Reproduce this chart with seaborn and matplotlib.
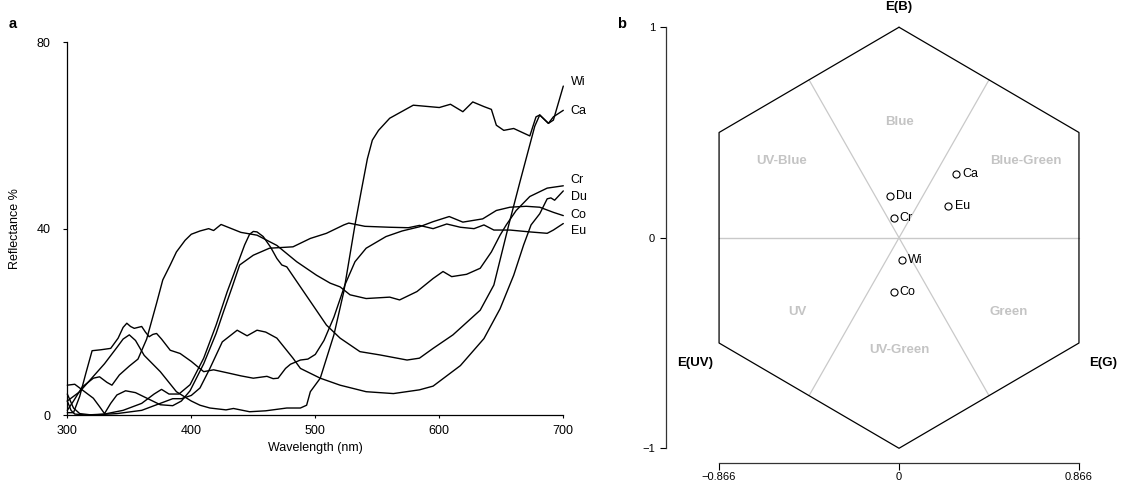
import numpy as np
import pandas as pd
import matplotlib
matplotlib.use("Agg")
import matplotlib.pyplot as plt
import seaborn as sns

# ---------------- data: panel a (reflectance spectra) ----------------
wi_wl = [300, 303, 306, 315, 330, 345, 360, 370, 376, 382, 390, 399, 410, 420, 429, 437, 443, 447, 450, 453,
         458, 464, 469, 473, 477, 488, 498, 509, 520, 536, 552, 574, 584, 595, 611, 633, 644, 652, 656,
         665, 677, 681, 688, 692, 700]
wi_r = [3.0, 1.0, 0.2, 0.0, 0.2, 1.0, 2.5, 4.5, 5.5, 4.5, 4.5, 6.5, 12.2, 19.3, 26.5, 32.2, 36.5, 38.8, 39.4, 39.3,
        38.3, 36.0, 33.6, 32.2, 31.8, 27.5, 23.6, 19.3, 16.5, 13.6, 12.9, 11.8, 12.2, 14.3, 17.2, 22.5, 27.9, 36.5, 40.8,
        50.0, 62.0, 64.4, 62.6, 63.3, 70.6]

ca_wl = [300, 310, 320, 330, 340, 345, 350, 355, 362, 375, 388, 400, 407, 415, 428, 434, 447, 460, 477, 488,
         493, 496, 504, 515, 523, 532, 537, 542, 546, 551, 560, 579, 600, 609, 619, 627, 636, 642,
         646, 652, 660, 673, 678, 681, 688, 692, 700]
ca_r = [3.0, 5.0, 8.0, 11.0, 14.5, 16.3, 17.2, 16.0, 12.8, 9.3, 5.0, 3.0, 2.1, 1.5, 1.1, 1.4, 0.7, 0.9, 1.5, 1.5,
        2.1, 5.0, 7.9, 17.2, 26.5, 40.8, 48.0, 55.0, 59.0, 61.1, 63.7, 66.5, 66.0, 66.7, 65.1, 67.2, 66.2, 65.6,
        62.2, 61.1, 61.5, 59.9, 64.0, 64.4, 62.6, 64.0, 65.4]

cr_wl = [300, 305, 312, 321, 326, 332, 336, 342, 350, 357, 364, 372, 377, 383, 388, 395, 400, 407,
         414, 418, 424, 440, 453, 461, 469, 485, 501, 512, 520, 528, 541, 560, 568, 582, 595, 603,
         610, 622, 633, 642, 649, 654, 662, 673, 687, 700]
cr_r = [1.0, 3.0, 6.0, 7.9, 8.2, 7.0, 6.4, 8.6, 10.5, 12.0, 16.3, 24.0, 29.0, 32.2, 35.0, 37.5, 38.8, 39.5,
        40.0, 39.6, 40.9, 39.2, 38.6, 37.5, 36.4, 32.9, 30.0, 28.3, 27.5, 25.8, 25.0, 25.3, 24.7, 26.5, 29.3, 30.8,
        29.7, 30.2, 31.5, 35.0, 38.6, 40.8, 43.9, 46.9, 48.7, 49.2]

du_wl = [300, 305, 310, 320, 340, 360, 375, 385, 392, 400, 407, 415, 425, 437, 445, 453, 460, 469,
         482, 488, 504, 520, 541, 563, 584, 595, 617, 636, 649, 660, 668, 674, 681, 687, 690, 693, 700]
du_r = [4.5, 1.5, 0.3, 0.0, 0.3, 1.0, 2.5, 3.5, 3.5, 4.2, 5.8, 10.0, 15.7, 18.2, 17.0, 18.2, 17.8, 16.5,
        12.2, 10.0, 7.9, 6.4, 5.0, 4.6, 5.4, 6.2, 10.6, 16.4, 22.8, 30.0, 36.5, 40.8, 43.2, 46.4, 46.6, 46.1, 48.1]

co_wl = [300, 305, 310, 315, 320, 327, 335, 341, 345, 348, 351, 354, 357, 360, 363, 366, 369, 372, 376, 383, 391,
         400, 410, 418, 430, 440, 450, 461, 466, 470, 476, 480, 488, 494, 500, 507, 515, 524, 532, 541, 557,
         570, 584, 595, 608, 619, 635, 646, 657, 670, 681, 692, 700]
co_r = [0.5, 0.5, 4.0, 9.0, 13.8, 14.0, 14.3, 16.5, 18.8, 19.7, 19.0, 18.6, 18.8, 19.0, 17.8, 16.8, 17.3, 17.5, 16.3,
        13.9, 13.2, 11.5, 9.3, 9.7, 9.0, 8.4, 7.9, 8.3, 7.8, 7.9, 10.0, 10.9, 11.8, 12.0, 13.0, 16.0, 21.0, 28.0,
        32.9, 35.8, 38.3, 39.5, 40.4, 41.5, 42.6, 41.4, 42.1, 43.9, 44.6, 44.8, 44.6, 43.5, 42.8]

eu_wl = [300, 306, 314, 321, 326, 330, 335, 340, 347, 355, 365, 375, 385, 392, 399, 410, 420, 426,
         433, 439, 450, 463, 482, 496, 509, 523, 527, 540, 560, 575, 584, 595, 606, 617, 628, 636,
         644, 657, 673, 687, 692, 700]
eu_r = [6.4, 6.6, 5.0, 3.6, 1.8, 0.3, 2.5, 4.3, 5.2, 4.8, 3.5, 2.2, 2.0, 3.0, 5.2, 11.0, 17.5, 22.2,
        27.5, 32.2, 34.3, 35.8, 36.1, 37.9, 39.0, 40.8, 41.2, 40.5, 40.3, 40.2, 40.7, 40.0, 41.0, 40.3, 40.0, 40.8,
        39.7, 39.7, 39.3, 39.0, 39.7, 41.1]

spectra_names = ["Wi", "Ca", "Cr", "Du", "Co", "Eu"]
spectra_wl = [wi_wl, ca_wl, cr_wl, du_wl, co_wl, eu_wl]
spectra_r = [wi_r, ca_r, cr_r, du_r, co_r, eu_r]

x_ticks_a = [300, 400, 500, 600, 700]
y_ticks_a = [0, 40, 80]

# ---------------- data: panel b (colour hexagon) ----------------
pt_names = ["Ca", "Du", "Eu", "Cr", "Wi", "Co"]
pt_x = [0.273, -0.043, 0.237, -0.026, 0.013, -0.026]
pt_y = [0.303, 0.197, 0.151, 0.092, -0.107, -0.260]

region_names = ["Blue", "UV-Blue", "Blue-Green", "UV", "Green", "UV-Green"]
x_ticks_b = [-0.866, 0, 0.866]
x_ticklabels_b = ["\u22120.866", "0", "0.866"]
y_ticks_b = [-1, 0, 1]
y_ticklabels_b = ["\u22121", "0", "1"]

# ---------------- layout (positions only) ----------------
label_y_a = {"Wi": 71.5, "Ca": 65.3, "Cr": 50.4, "Du": 46.7, "Co": 43.0, "Eu": 39.6}
region_pos = {"Blue": (0.0, 0.55), "UV-Blue": (-0.564, 0.364), "Blue-Green": (0.611, 0.364),
              "UV": (-0.487, -0.353), "Green": (0.528, -0.353), "UV-Green": (0.0, -0.533)}

sns.set_theme(style="ticks")
plt.rcParams["font.family"] = ["Liberation Sans", "DejaVu Sans"]
plt.rcParams["text.color"] = "black"
plt.rcParams["axes.labelcolor"] = "black"
plt.rcParams["xtick.color"] = "black"
plt.rcParams["ytick.color"] = "black"

fig = plt.figure(figsize=(11.38, 4.86), dpi=100)

# ================= panel a =================
axL = fig.add_axes([0.05914, 0.14609, 0.43585, 0.76687])
rows = []
for name, wl, r in zip(spectra_names, spectra_wl, spectra_r):
    for w, v in zip(wl, r):
        rows.append({"sample": name, "wl": w, "refl": v})
df = pd.DataFrame(rows)
sns.lineplot(data=df, x="wl", y="refl", units="sample", estimator=None, sort=False,
             color="black", linewidth=1.0, ax=axL, legend=False)
for ln in axL.lines:
    ln.set_clip_on(False)
    ln.set_solid_joinstyle("round")

axL.set_xlim(300, 700)
axL.set_ylim(0, 80)
axL.set_xticks(x_ticks_a)
axL.set_yticks(y_ticks_a)
for s in ["top", "right"]:
    axL.spines[s].set_visible(False)
for s in ["left", "bottom"]:
    axL.spines[s].set_linewidth(0.9)
    axL.spines[s].set_color("black")
axL.tick_params(axis="y", length=3, width=0.8, pad=9, labelsize=9)
axL.tick_params(axis="x", length=2.5, width=0.8, pad=5, labelsize=9)
axL.set_xlabel("Wavelength (nm)", fontsize=9)
axL.set_ylabel("Reflectance %", fontsize=9)
axL.xaxis.set_label_coords(0.5, -0.072)
axL.yaxis.set_label_coords(-0.093, 0.5)
for name in spectra_names:
    axL.text(706, label_y_a[name], name, ha="left", va="center", fontsize=9, clip_on=False)

# ================= panel b =================
axR = fig.add_axes([0.6074, 0.0473, 0.3652, 0.927])
axR.set_xlim(-1.0, 1.0)
axR.set_ylim(-1.07, 1.07)

h = 0.866
hex_x = [0, h, h, 0, -h, -h, 0]
hex_y = [1, 0.5, -0.5, -1, -0.5, 0.5, 1]
axR.plot(hex_x, hex_y, color="black", lw=0.9, clip_on=False, zorder=2)
grey = "#c9c9c9"
axR.plot([-h, h], [0, 0], color=grey, lw=1.0, zorder=1)
axR.plot([-h / 2, h / 2], [0.75, -0.75], color=grey, lw=0.9, zorder=1)
axR.plot([h / 2, -h / 2], [0.75, -0.75], color=grey, lw=0.9, zorder=1)

for name in region_names:
    x, y = region_pos[name]
    axR.text(x, y, name, ha="center", va="center", fontsize=9.5, fontweight="bold", color="#c4c4c4")

sns.scatterplot(x=pt_x, y=pt_y, ax=axR, marker="o", s=26, color="white",
                edgecolor="black", linewidth=0.8, zorder=4, legend=False)
for name, x, y in zip(pt_names, pt_x, pt_y):
    axR.text(x + 0.03, y, name, ha="left", va="center", fontsize=9)

axR.text(0, 1.097, "E(B)", ha="center", va="center", fontsize=9.5, fontweight="bold", clip_on=False)
axR.text(-0.98, -0.596, "E(UV)", ha="center", va="center", fontsize=9.5, fontweight="bold", clip_on=False)
axR.text(0.98, -0.596, "E(G)", ha="center", va="center", fontsize=9.5, fontweight="bold", clip_on=False)

for s in ["top", "right"]:
    axR.spines[s].set_visible(False)
axR.spines["left"].set_position(("outward", 18.4))
axR.spines["left"].set_bounds(-1, 1)
axR.spines["bottom"].set_bounds(-h, h)
for s in ["left", "bottom"]:
    axR.spines[s].set_linewidth(0.9)
    axR.spines[s].set_color("#333333")
axR.set_xticks(x_ticks_b)
axR.set_xticklabels(x_ticklabels_b)
axR.set_yticks(y_ticks_b)
axR.set_yticklabels(y_ticklabels_b)
axR.tick_params(axis="y", length=4, width=0.8, pad=3.5, labelsize=8)
axR.tick_params(axis="x", length=5, width=0.8, pad=1.5, labelsize=8)

fig.text(13 / 1138, 1 - 24 / 486, "a", fontsize=10.5, fontweight="bold", ha="center", va="center")
fig.text(622 / 1138, 1 - 24 / 486, "b", fontsize=10.5, fontweight="bold", ha="center", va="center")

fig.savefig("out.png", dpi=100)
